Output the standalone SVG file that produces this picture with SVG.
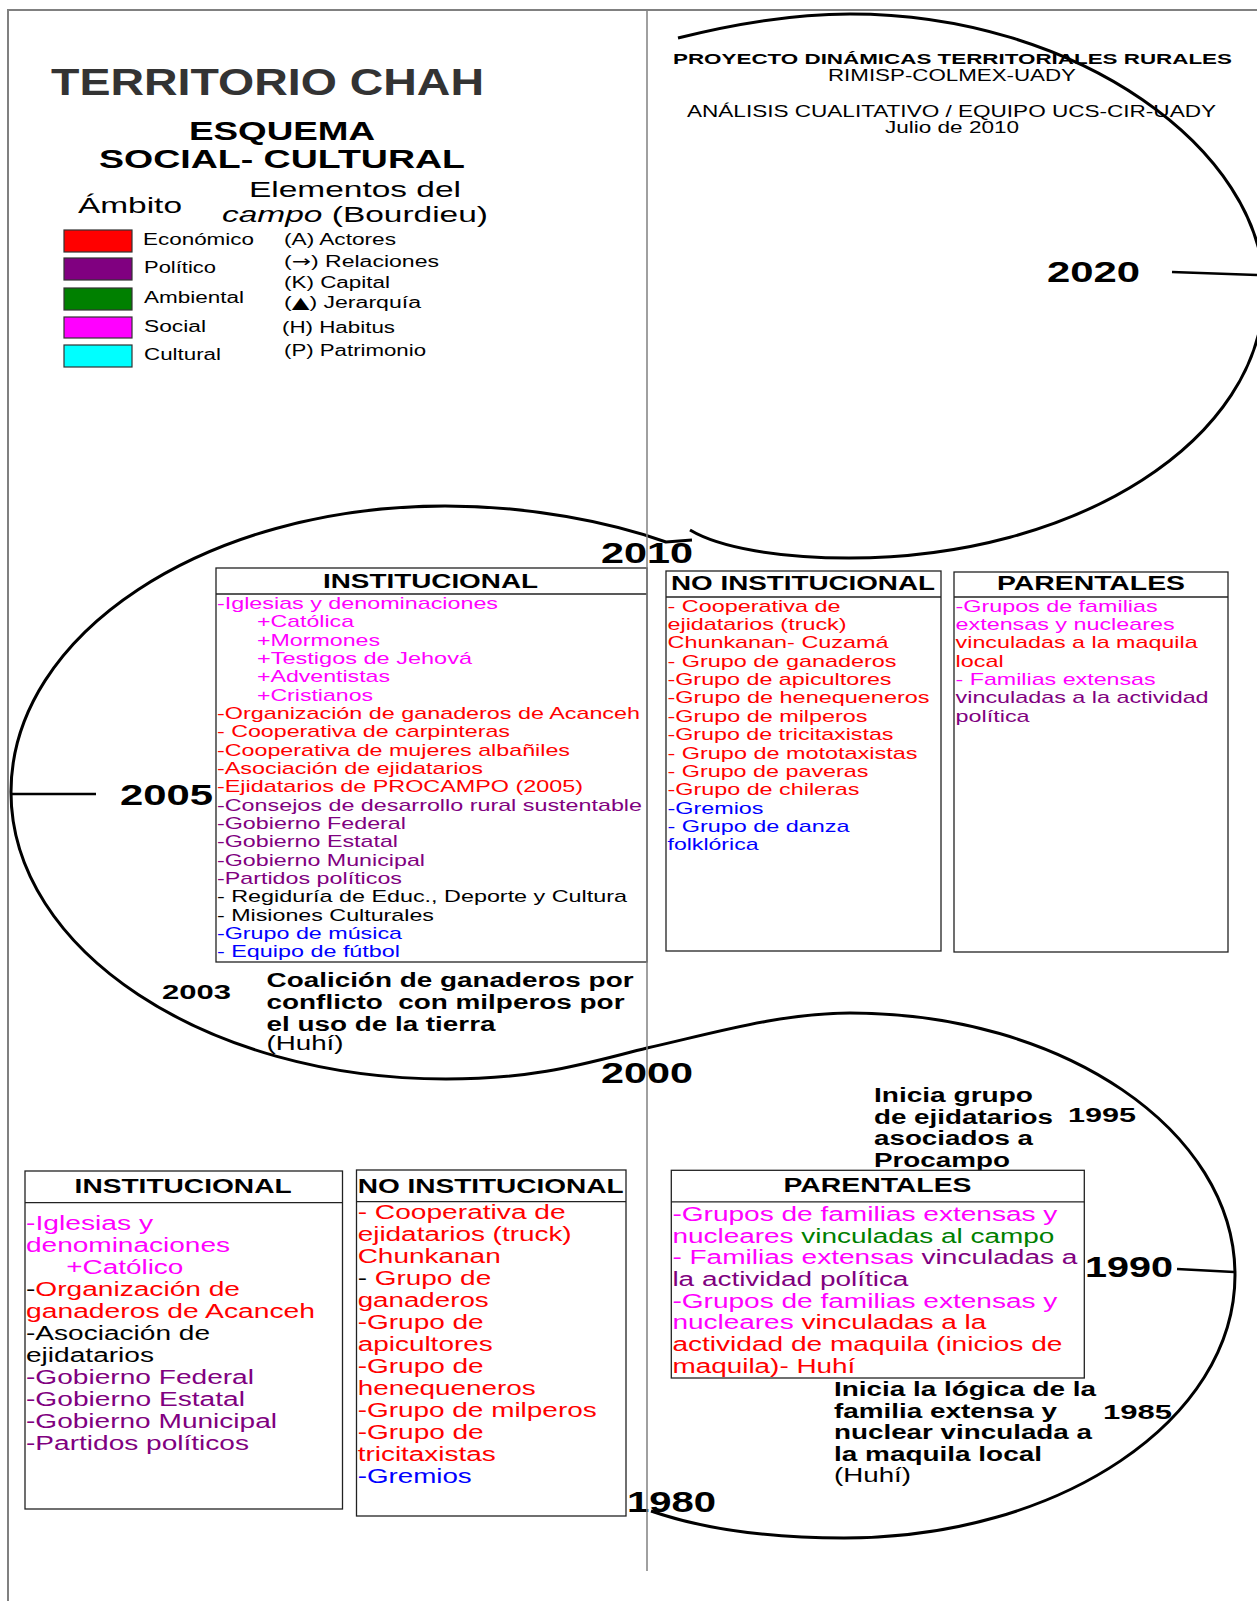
<svg xmlns="http://www.w3.org/2000/svg" width="1257" height="1601" viewBox="0 0 1257 1601">
<style>
text { font-family: "Liberation Sans", Arial, sans-serif; }
.b { font-weight: bold; }
.box { fill: #fff; stroke: #222; stroke-width: 1.3; }
.sep { stroke: #222; stroke-width: 1.3; }
.curve { fill: none; stroke: #000; stroke-width: 3; }
.tick { fill: none; stroke: #000; stroke-width: 2.5; }
.frame { fill: none; stroke: #808080; stroke-width: 2; }
.mid { fill: none; stroke: #808080; stroke-width: 1.5; }
.m { fill: #FF00FF; } .r { fill: #FF0000; } .p { fill: #800080; } .g { fill: #008000; } .u { fill: #0000FF; } .k { fill: #000; }
.year { font-weight: bold; font-size: 29px; fill: #000; }
.yr2 { font-weight: bold; font-size: 21px; fill: #000; }
.hdr { font-weight: bold; font-size: 20px; fill: #000; }
.s1 { font-size: 17px; }
.s2 { font-size: 20px; }
.note { font-weight: bold; font-size: 19.5px; fill: #000; }
.noteR { font-size: 19.5px; fill: #000; }
.leg { font-size: 16px; fill: #000; }
.sym { font-family: "DejaVu Sans", sans-serif; }
.sw { stroke: #333; stroke-width: 1.2; }
</style>

<g id="frame">
  <path class="frame" d="M8,1601 L8,10 L1257,10"/>
</g>

<g id="connectors">
  <path id="loop-2010-2020" class="curve" d="M678,38 C730,25 790,14 850,14 C1077,14 1264,150 1264,290 C1264,440 1077,558 849,558 C780,558 720,548 690,530"/>
  <path id="loop-2010-1980" class="curve" d="M692,540 L666,542 C610,522 530,506 445,506 C205,506 11,634 11,792 C11,950 206,1079 446,1079 C540,1079 590,1062 647,1048 C710,1034 780,1013 850,1013 C1062,1013 1235,1130 1235,1275 C1235,1420 1060,1538 844,1538 C760,1538 700,1528 651,1511"/>
  <path id="tick-2020" class="tick" d="M1172,272 L1257,275"/>
  <path id="tick-2005" class="tick" d="M11,794 L96,794"/>
  <path id="tick-1990" class="tick" d="M1177,1269 L1234,1272"/>
</g>

<g id="title">
  <text x="51" y="95" class="b" font-size="36" fill="#333" textLength="433" lengthAdjust="spacingAndGlyphs">TERRITORIO CHAH</text>
  <text x="189" y="140" class="b" font-size="26" fill="#000" textLength="186" lengthAdjust="spacingAndGlyphs">ESQUEMA</text>
  <text x="99" y="168" class="b" font-size="26" fill="#000" textLength="366" lengthAdjust="spacingAndGlyphs">SOCIAL- CULTURAL</text>
  <text x="249" y="197" font-size="22" fill="#000" textLength="212" lengthAdjust="spacingAndGlyphs">Elementos del</text>
  <text x="78" y="213" font-size="22" fill="#000" textLength="104" lengthAdjust="spacingAndGlyphs">Ámbito</text>
  <text x="222" y="222" font-size="22" fill="#000" textLength="266" lengthAdjust="spacingAndGlyphs"><tspan font-style="italic">campo</tspan> (Bourdieu)</text>
</g>

<g id="legend">
  <rect class="sw" x="64" y="230" width="68" height="22" fill="#FF0000"/>
  <rect class="sw" x="64" y="258" width="68" height="22" fill="#800080"/>
  <rect class="sw" x="64" y="288" width="68" height="22" fill="#008000"/>
  <rect class="sw" x="64" y="317" width="68" height="21" fill="#FF00FF"/>
  <rect class="sw" x="64" y="345" width="68" height="22" fill="#00FFFF"/>
  <text class="leg" x="143" y="245" textLength="111" lengthAdjust="spacingAndGlyphs">Económico</text>
  <text class="leg" x="144" y="273" textLength="72" lengthAdjust="spacingAndGlyphs">Político</text>
  <text class="leg" x="144" y="303" textLength="100" lengthAdjust="spacingAndGlyphs">Ambiental</text>
  <text class="leg" x="144" y="332" textLength="62" lengthAdjust="spacingAndGlyphs">Social</text>
  <text class="leg" x="144" y="360" textLength="77" lengthAdjust="spacingAndGlyphs">Cultural</text>
  <text class="leg" x="284" y="245" textLength="112" lengthAdjust="spacingAndGlyphs">(A) Actores</text>
  <text class="leg" x="284" y="267" textLength="155" lengthAdjust="spacingAndGlyphs">(<tspan class="sym">→</tspan>) Relaciones</text>
  <text class="leg" x="284" y="288" textLength="106" lengthAdjust="spacingAndGlyphs">(K) Capital</text>
  <text class="leg" x="284" y="308" textLength="137" lengthAdjust="spacingAndGlyphs">(<tspan class="sym">▲</tspan>) Jerarquía</text>
  <text class="leg" x="282" y="333" textLength="113" lengthAdjust="spacingAndGlyphs">(H) Habitus</text>
  <text class="leg" x="284" y="356" textLength="142" lengthAdjust="spacingAndGlyphs">(P) Patrimonio</text>
</g>

<g id="project-header">
  <text x="673" y="63.5" class="b" font-size="15.5" fill="#000" textLength="559" lengthAdjust="spacingAndGlyphs">PROYECTO DINÁMICAS TERRITORIALES RURALES</text>
  <text x="828" y="81" font-size="16" fill="#000" textLength="248" lengthAdjust="spacingAndGlyphs">RIMISP-COLMEX-UADY</text>
  <text x="687" y="117" font-size="16" fill="#000" textLength="529" lengthAdjust="spacingAndGlyphs">ANÁLISIS CUALITATIVO / EQUIPO UCS-CIR-UADY</text>
  <text x="885" y="133" font-size="16" fill="#000" textLength="134" lengthAdjust="spacingAndGlyphs">Julio de 2010</text>
</g>

<g id="years">
  <text class="year" x="1047" y="282" textLength="93" lengthAdjust="spacingAndGlyphs">2020</text>
  <text class="year" x="601" y="563" textLength="92" lengthAdjust="spacingAndGlyphs">2010</text>
  <text class="year" x="120" y="805" textLength="93" lengthAdjust="spacingAndGlyphs">2005</text>
  <text class="yr2" x="162" y="999" textLength="69" lengthAdjust="spacingAndGlyphs">2003</text>
  <text class="year" x="601" y="1083" textLength="92" lengthAdjust="spacingAndGlyphs">2000</text>
  <text class="yr2" x="1068" y="1122" textLength="68" lengthAdjust="spacingAndGlyphs">1995</text>
  <text class="year" x="1085" y="1277" textLength="88" lengthAdjust="spacingAndGlyphs">1990</text>
  <text class="yr2" x="1103" y="1419" textLength="69" lengthAdjust="spacingAndGlyphs">1985</text>
  <text class="year" x="627" y="1512" textLength="89" lengthAdjust="spacingAndGlyphs">1980</text>
</g>

<g id="note-2003">
  <text class="note" x="266.5" y="987" textLength="367" lengthAdjust="spacingAndGlyphs">Coalición de ganaderos por</text>
  <text class="note" x="266.5" y="1008.5" textLength="358" lengthAdjust="spacingAndGlyphs" xml:space="preserve">conflicto  con milperos por</text>
  <text class="note" x="266.5" y="1030.5" textLength="229" lengthAdjust="spacingAndGlyphs">el uso de la tierra</text>
  <text class="noteR" x="266.5" y="1050" textLength="77" lengthAdjust="spacingAndGlyphs">(Huhí)</text>
</g>

<g id="note-1995">
  <text class="note" x="874" y="1102" textLength="159" lengthAdjust="spacingAndGlyphs">Inicia grupo</text>
  <text class="note" x="874" y="1123.5" textLength="179" lengthAdjust="spacingAndGlyphs">de ejidatarios</text>
  <text class="note" x="874" y="1145" textLength="159" lengthAdjust="spacingAndGlyphs">asociados a</text>
  <text class="note" x="874" y="1167" textLength="136" lengthAdjust="spacingAndGlyphs">Procampo</text>
</g>

<g id="note-1985">
  <text class="note" x="834" y="1396" textLength="262" lengthAdjust="spacingAndGlyphs">Inicia la lógica de la</text>
  <text class="note" x="834" y="1417.5" textLength="223" lengthAdjust="spacingAndGlyphs">familia extensa y</text>
  <text class="note" x="834" y="1439" textLength="258" lengthAdjust="spacingAndGlyphs">nuclear vinculada a</text>
  <text class="note" x="834" y="1461" textLength="208" lengthAdjust="spacingAndGlyphs">la maquila local</text>
  <text class="noteR" x="834" y="1482" textLength="77" lengthAdjust="spacingAndGlyphs">(Huhí)</text>
</g>

<g id="inst-2010">
  <rect class="box" x="216" y="568" width="431" height="394"/>
  <line class="sep" x1="216" y1="594" x2="647" y2="594"/>
  <text class="hdr" x="323" y="588" textLength="215" lengthAdjust="spacingAndGlyphs">INSTITUCIONAL</text>
  <g class="s1">
    <text class="m" x="217" y="609" textLength="281" lengthAdjust="spacingAndGlyphs">-Iglesias y denominaciones</text>
    <text class="m" x="257" y="627.4" textLength="97" lengthAdjust="spacingAndGlyphs">+Católica</text>
    <text class="m" x="257" y="645.7" textLength="123" lengthAdjust="spacingAndGlyphs">+Mormones</text>
    <text class="m" x="257" y="664" textLength="215" lengthAdjust="spacingAndGlyphs">+Testigos de Jehová</text>
    <text class="m" x="257" y="682.4" textLength="133" lengthAdjust="spacingAndGlyphs">+Adventistas</text>
    <text class="m" x="257" y="700.7" textLength="116" lengthAdjust="spacingAndGlyphs">+Cristianos</text>
    <text class="r" x="217" y="719" textLength="423" lengthAdjust="spacingAndGlyphs">-Organización de ganaderos de Acanceh</text>
    <text class="r" x="217" y="737.4" textLength="293" lengthAdjust="spacingAndGlyphs">- Cooperativa de carpinteras</text>
    <text class="r" x="217" y="755.7" textLength="353" lengthAdjust="spacingAndGlyphs">-Cooperativa de mujeres albañiles</text>
    <text class="r" x="217" y="774" textLength="266" lengthAdjust="spacingAndGlyphs">-Asociación de ejidatarios</text>
    <text class="r" x="217" y="792.4" textLength="366" lengthAdjust="spacingAndGlyphs">-Ejidatarios de PROCAMPO (2005)</text>
    <text class="p" x="217" y="810.7" textLength="425" lengthAdjust="spacingAndGlyphs">-Consejos de desarrollo rural sustentable</text>
    <text class="p" x="217" y="829" textLength="189" lengthAdjust="spacingAndGlyphs">-Gobierno Federal</text>
    <text class="p" x="217" y="847.4" textLength="181" lengthAdjust="spacingAndGlyphs">-Gobierno Estatal</text>
    <text class="p" x="217" y="865.7" textLength="208" lengthAdjust="spacingAndGlyphs">-Gobierno Municipal</text>
    <text class="p" x="217" y="884" textLength="185" lengthAdjust="spacingAndGlyphs">-Partidos políticos</text>
    <text class="k" x="217" y="902.4" textLength="410" lengthAdjust="spacingAndGlyphs">- Regiduría de Educ., Deporte y Cultura</text>
    <text class="k" x="217" y="920.7" textLength="217" lengthAdjust="spacingAndGlyphs">- Misiones Culturales</text>
    <text class="u" x="217" y="939" textLength="185" lengthAdjust="spacingAndGlyphs">-Grupo de música</text>
    <text class="u" x="217" y="957.4" textLength="183" lengthAdjust="spacingAndGlyphs">- Equipo de fútbol</text>
  </g>
</g>

<g id="noinst-2010">
  <rect class="box" x="666" y="571" width="275" height="380"/>
  <line class="sep" x1="666" y1="597" x2="941" y2="597"/>
  <text class="hdr" x="671" y="590" textLength="264" lengthAdjust="spacingAndGlyphs">NO INSTITUCIONAL</text>
  <g class="s1">
    <text class="r" x="667.5" y="611.7" textLength="173" lengthAdjust="spacingAndGlyphs">- Cooperativa de</text>
    <text class="r" x="667.5" y="630" textLength="179" lengthAdjust="spacingAndGlyphs">ejidatarios (truck)</text>
    <text class="r" x="667.5" y="648.4" textLength="221" lengthAdjust="spacingAndGlyphs">Chunkanan- Cuzamá</text>
    <text class="r" x="667.5" y="666.7" textLength="229" lengthAdjust="spacingAndGlyphs">- Grupo de ganaderos</text>
    <text class="r" x="667.5" y="685.1" textLength="224" lengthAdjust="spacingAndGlyphs">-Grupo de apicultores</text>
    <text class="r" x="667.5" y="703.4" textLength="262" lengthAdjust="spacingAndGlyphs">-Grupo de henequeneros</text>
    <text class="r" x="667.5" y="721.8" textLength="200" lengthAdjust="spacingAndGlyphs">-Grupo de milperos</text>
    <text class="r" x="667.5" y="740.1" textLength="226" lengthAdjust="spacingAndGlyphs">-Grupo de tricitaxistas</text>
    <text class="r" x="667.5" y="758.5" textLength="250" lengthAdjust="spacingAndGlyphs">- Grupo de mototaxistas</text>
    <text class="r" x="667.5" y="776.8" textLength="201" lengthAdjust="spacingAndGlyphs">- Grupo de paveras</text>
    <text class="r" x="667.5" y="795.2" textLength="192" lengthAdjust="spacingAndGlyphs">-Grupo de chileras</text>
    <text class="u" x="667.5" y="813.5" textLength="96" lengthAdjust="spacingAndGlyphs">-Gremios</text>
    <text class="u" x="667.5" y="831.9" textLength="182" lengthAdjust="spacingAndGlyphs">- Grupo de danza</text>
    <text class="u" x="667.5" y="850.2" textLength="91" lengthAdjust="spacingAndGlyphs">folklórica</text>
  </g>
</g>

<g id="parentales-2010">
  <rect class="box" x="954" y="572" width="274" height="380"/>
  <line class="sep" x1="954" y1="597" x2="1228" y2="597"/>
  <text class="hdr" x="997" y="590" textLength="188" lengthAdjust="spacingAndGlyphs">PARENTALES</text>
  <g class="s1">
    <text class="m" x="955.6" y="611.7" textLength="202" lengthAdjust="spacingAndGlyphs">-Grupos de familias</text>
    <text class="m" x="955.6" y="630" textLength="219" lengthAdjust="spacingAndGlyphs">extensas y nucleares</text>
    <text class="r" x="955.6" y="648.4" textLength="242" lengthAdjust="spacingAndGlyphs">vinculadas a la maquila</text>
    <text class="r" x="955.6" y="666.7" textLength="48" lengthAdjust="spacingAndGlyphs">local</text>
    <text class="m" x="955.6" y="685.1" textLength="200" lengthAdjust="spacingAndGlyphs">- Familias extensas</text>
    <text class="p" x="955.6" y="703.4" textLength="253" lengthAdjust="spacingAndGlyphs">vinculadas a la actividad</text>
    <text class="p" x="955.6" y="721.8" textLength="74" lengthAdjust="spacingAndGlyphs">política</text>
  </g>
</g>

<g id="inst-1980">
  <rect class="box" x="25" y="1171" width="317.5" height="338"/>
  <line class="sep" x1="25" y1="1202.7" x2="342.5" y2="1202.7"/>
  <text class="hdr" x="74.6" y="1193.3" textLength="217" lengthAdjust="spacingAndGlyphs">INSTITUCIONAL</text>
  <g class="s2">
    <text class="m" x="26" y="1230" textLength="127" lengthAdjust="spacingAndGlyphs">-Iglesias y</text>
    <text class="m" x="26" y="1252" textLength="204" lengthAdjust="spacingAndGlyphs">denominaciones</text>
    <text class="m" x="66.3" y="1274" textLength="117" lengthAdjust="spacingAndGlyphs">+Católico</text>
    <text class="k" x="26" y="1296" textLength="214" lengthAdjust="spacingAndGlyphs">-<tspan class="r">Organización de</tspan></text>
    <text class="r" x="26" y="1318" textLength="289" lengthAdjust="spacingAndGlyphs">ganaderos de Acanceh</text>
    <text class="k" x="26" y="1340" textLength="184" lengthAdjust="spacingAndGlyphs">-Asociación de</text>
    <text class="k" x="26" y="1362" textLength="128" lengthAdjust="spacingAndGlyphs">ejidatarios</text>
    <text class="p" x="26" y="1384" textLength="228" lengthAdjust="spacingAndGlyphs">-Gobierno Federal</text>
    <text class="p" x="26" y="1406" textLength="219" lengthAdjust="spacingAndGlyphs">-Gobierno Estatal</text>
    <text class="p" x="26" y="1428" textLength="251" lengthAdjust="spacingAndGlyphs">-Gobierno Municipal</text>
    <text class="p" x="26" y="1450" textLength="223" lengthAdjust="spacingAndGlyphs">-Partidos políticos</text>
  </g>
</g>

<g id="noinst-1980">
  <rect class="box" x="356.5" y="1170" width="269.5" height="346"/>
  <line class="sep" x1="356.5" y1="1201.7" x2="626" y2="1201.7"/>
  <text class="hdr" x="357.7" y="1192.7" textLength="266" lengthAdjust="spacingAndGlyphs">NO INSTITUCIONAL</text>
  <g class="s2">
    <text class="r" x="357.7" y="1219.3" textLength="208" lengthAdjust="spacingAndGlyphs">- Cooperativa de</text>
    <text class="r" x="357.7" y="1241.3" textLength="214" lengthAdjust="spacingAndGlyphs">ejidatarios (truck)</text>
    <text class="r" x="357.7" y="1263.3" textLength="143" lengthAdjust="spacingAndGlyphs">Chunkanan</text>
    <text class="k" x="357.7" y="1285.3" textLength="133.5" lengthAdjust="spacingAndGlyphs">- <tspan class="r">Grupo de</tspan></text>
    <text class="r" x="357.7" y="1307.3" textLength="131" lengthAdjust="spacingAndGlyphs">ganaderos</text>
    <text class="r" x="357.7" y="1329.3" textLength="126" lengthAdjust="spacingAndGlyphs">-Grupo de</text>
    <text class="r" x="357.7" y="1351.3" textLength="135" lengthAdjust="spacingAndGlyphs">apicultores</text>
    <text class="r" x="357.7" y="1373.3" textLength="126" lengthAdjust="spacingAndGlyphs">-Grupo de</text>
    <text class="r" x="357.7" y="1395.3" textLength="178" lengthAdjust="spacingAndGlyphs">henequeneros</text>
    <text class="r" x="357.7" y="1417.3" textLength="239" lengthAdjust="spacingAndGlyphs">-Grupo de milperos</text>
    <text class="r" x="357.7" y="1439.3" textLength="126" lengthAdjust="spacingAndGlyphs">-Grupo de</text>
    <text class="r" x="357.7" y="1461.3" textLength="138" lengthAdjust="spacingAndGlyphs">tricitaxistas</text>
    <text class="u" x="357.7" y="1483.3" textLength="114" lengthAdjust="spacingAndGlyphs">-Gremios</text>
  </g>
</g>

<g id="parentales-1980">
  <rect class="box" x="671.3" y="1170.3" width="413" height="207.7"/>
  <line class="sep" x1="671.3" y1="1201.9" x2="1084.3" y2="1201.9"/>
  <text class="hdr" x="783.5" y="1192" textLength="188" lengthAdjust="spacingAndGlyphs">PARENTALES</text>
  <g class="s2">
    <text class="m" x="672.4" y="1220.8" textLength="385" lengthAdjust="spacingAndGlyphs">-Grupos de familias extensas y</text>
    <text class="m" x="672.4" y="1242.5" textLength="382" lengthAdjust="spacingAndGlyphs">nucleares <tspan class="g">vinculadas al campo</tspan></text>
    <text class="m" x="672.4" y="1264.2" textLength="405" lengthAdjust="spacingAndGlyphs">- Familias extensas <tspan class="p">vinculadas a</tspan></text>
    <text class="p" x="672.4" y="1285.9" textLength="236" lengthAdjust="spacingAndGlyphs">la actividad política</text>
    <text class="m" x="672.4" y="1307.6" textLength="385" lengthAdjust="spacingAndGlyphs">-Grupos de familias extensas y</text>
    <text class="m" x="672.4" y="1329.3" textLength="314" lengthAdjust="spacingAndGlyphs">nucleares <tspan class="r">vinculadas a la</tspan></text>
    <text class="r" x="672.4" y="1351" textLength="390" lengthAdjust="spacingAndGlyphs">actividad de maquila (inicios de</text>
    <text class="r" x="672.4" y="1372.7" textLength="183" lengthAdjust="spacingAndGlyphs">maquila)- Huhí</text>
  </g>
</g>

<g id="divider">
  <line class="mid" x1="647" y1="10" x2="647" y2="1571"/>
</g>
</svg>
